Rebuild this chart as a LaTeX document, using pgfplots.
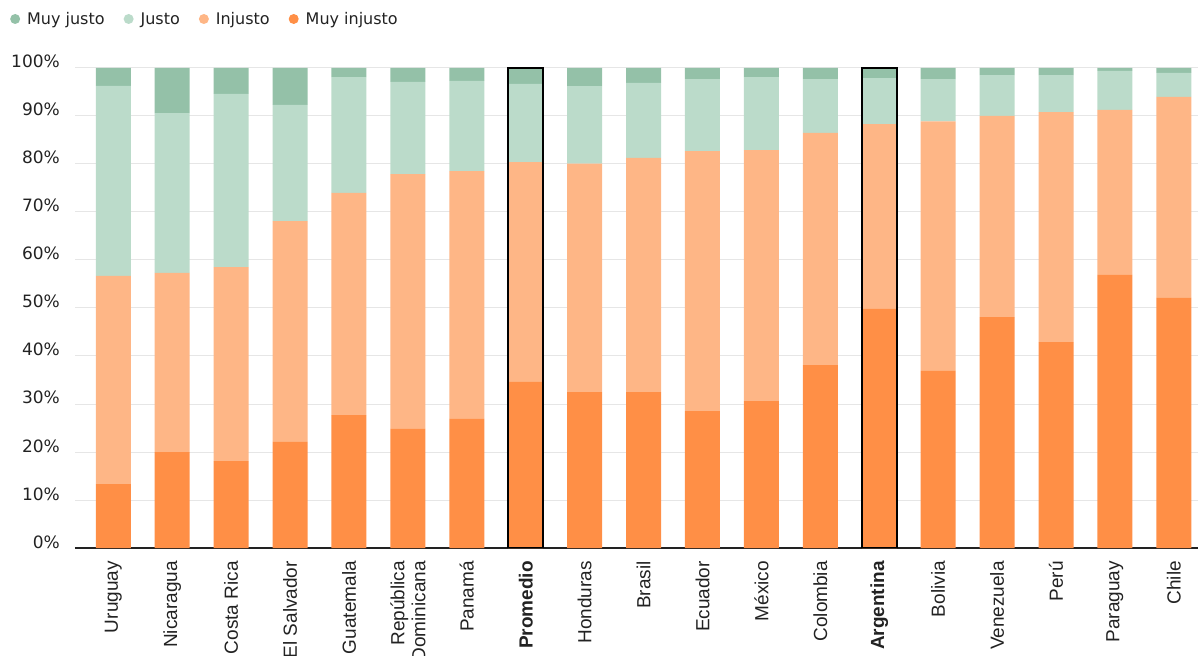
\documentclass[border=0pt]{standalone}
\usepackage{fontspec}
\setmainfont{Liberation Sans}
\newfontfamily\dejavu{DejaVu Sans}
\usepackage{pgfplots}
\pgfplotsset{compat=1.18}
\usepackage{pgfplotstable}
\definecolor{cMJ}{HTML}{94C1A8}
\definecolor{cJ}{HTML}{BBDBCA}
\definecolor{cI}{HTML}{FEB686}
\definecolor{cMI}{HTML}{FF8F46}
\definecolor{txt}{HTML}{222222}
\definecolor{gridc}{HTML}{E6E6E6}

\pgfplotstableread{
x mi in ju mj
0 13.3 43.4 39.6 3.7
1 20.0 37.3 33.3 9.4
2 18.1 40.4 36.1 5.4
3 22.1 46.0 24.2 7.7
4 27.7 46.3 24.1 1.9
5 24.8 53.1 19.2 2.9
6 26.9 51.6 18.8 2.7
7 34.6 45.8 16.3 3.3
8 32.5 47.6 16.1 3.8
9 32.5 48.8 15.6 3.1
10 28.5 54.2 15.0 2.3
11 30.6 52.3 15.2 1.9
12 38.1 48.4 11.2 2.3
13 49.8 38.5 9.6 2.1
14 36.9 52.0 8.8 2.3
15 48.1 41.9 8.5 1.5
16 42.9 47.9 7.7 1.5
17 56.9 34.4 8.1 0.6
18 52.1 41.9 5.0 1.0
}\data

\pgfplotsset{circlegend/.style={legend image code/.code={\fill[##1] (5bp,0bp) circle (5bp);}}}

\begin{document}
\begin{tikzpicture}
\begin{axis}[name=main, scale only axis, width=1123bp, height=480bp,
  ybar stacked, bar width=35bp,
  xmin=-0.65, xmax=18.41, ymin=0, ymax=100,
  axis x line*=bottom, axis y line*=left,
  y axis line style={draw=none},
  x axis line style={draw=txt, line width=1.6bp},
  major tick length=0pt,
  ytick={0,10,...,100},
  yticklabels={0\%,10\%,20\%,30\%,40\%,50\%,60\%,70\%,80\%,90\%,100\%},
  yticklabel style={font=\dejavu\fontsize{17bp}{20bp}\selectfont, text=txt, anchor=base east, inner sep=0pt, xshift=-15bp},
  ymajorgrids, grid style={draw=gridc, line width=1bp},
  xtick={0,...,18},
  xticklabels={Uruguay, Nicaragua, Costa Rica, El Salvador, Guatemala, {República\\Dominicana}, Panamá, \textbf{Promedio}, Honduras, Brasil, Ecuador, México, Colombia, \textbf{Argentina}, Bolivia, Venezuela, Perú, Paraguay, Chile},
  xticklabel style={font=\fontsize{19bp}{21bp}\selectfont, text=txt, rotate=90, anchor=east, align=right, inner xsep=13bp, inner ysep=0pt},
  legend columns=4, reverse legend,
  legend cell align=left,
  legend style={at={(-0.0579,1.1021)}, anchor=west, draw=none, fill=none, inner sep=0pt,
    font=\dejavu\fontsize{16bp}{19bp}\selectfont, text=txt,
    /tikz/every odd column/.append style={column sep=5bp},
    /tikz/every even column/.append style={column sep=17bp}},
]
\addplot[fill=cMI, draw=none, circlegend] table[x=x, y=mi] {\data};
\addlegendentry{Muy injusto}
\addplot[fill=cI, draw=none, circlegend] table[x=x, y=in] {\data};
\addlegendentry{Injusto}
\addplot[fill=cJ, draw=none, circlegend] table[x=x, y=ju] {\data};
\addlegendentry{Justo}
\addplot[fill=cMJ, draw=none, circlegend] table[x=x, y=mj] {\data};
\addlegendentry{Muy justo}
\end{axis}
\begin{axis}[scale only axis, width=1123bp, height=480bp, at={(main.south west)}, anchor=south west,
  xmin=-0.65, xmax=18.41, ymin=0, ymax=100, axis lines=none, ybar, bar width=35bp]
\addplot[draw=black, fill=none, line width=1.5bp] coordinates {(7,100) (13,100)};
\end{axis}
\pgfresetboundingbox
\path[use as bounding box] ([xshift=-75bp,yshift=-108bp]main.south west) rectangle ([xshift=1123bp,yshift=548bp]main.south west);
\end{tikzpicture}
\end{document}
